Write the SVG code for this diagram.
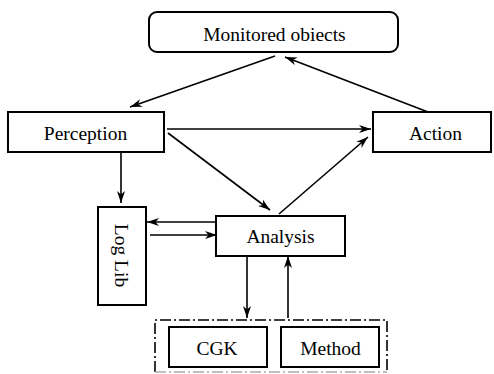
<svg xmlns="http://www.w3.org/2000/svg" width="494" height="374" viewBox="0 0 494 374">
  <style>
    .box { fill: #fff; stroke: #000; stroke-width: 2; }
    .lbl { font-family: "Liberation Serif", "Times New Roman", serif; font-size: 19.5px; fill: #000; text-anchor: middle; }
    .edge { fill: none; stroke: #000; stroke-width: 1.6; marker-end: url(#arrow); }
    .frame { fill: none; stroke: #000; stroke-width: 1.6; stroke-dasharray: 11 3 2 3; }
    .frame-low { fill: none; stroke: #aaa; stroke-width: 1.6; stroke-dasharray: 11 3 2 3; }
  </style>
  <defs>
    <marker id="arrow" markerUnits="userSpaceOnUse" markerWidth="14" markerHeight="9" refX="12" refY="4.5" orient="auto">
      <path d="M0,0.5 L12,4.5 L0,8.5 L3.5,4.5 z" fill="#000"/>
    </marker>
  </defs>

  <rect width="494" height="374" fill="#fff"/>

  <!-- connectors -->
  <g id="connectors">
    <line class="edge" x1="275" y1="56" x2="130" y2="107"/>
    <line class="edge" x1="428" y1="112" x2="285" y2="57"/>
    <line class="edge" x1="167" y1="129" x2="371" y2="129"/>
    <line class="edge" x1="168" y1="133" x2="270" y2="210"/>
    <line class="edge" x1="279" y1="214" x2="368" y2="137"/>
    <line class="edge" x1="121" y1="152" x2="121" y2="203"/>
    <line class="edge" x1="216" y1="222" x2="147" y2="222"/>
    <line class="edge" x1="150" y1="235" x2="217" y2="235"/>
    <line class="edge" x1="247" y1="253" x2="247" y2="318"/>
    <line class="edge" x1="288" y1="318" x2="288" y2="256"/>
  </g>

  <!-- knowledge frame around CGK and Method -->
  <g id="frame">
    <path class="frame" d="M155,372 L155,320 L387,320 L387,372"/>
    <line class="frame-low" x1="155" y1="372" x2="387" y2="372"/>
  </g>

  <g id="monitored">
    <rect class="box" x="149" y="12" width="249" height="40" rx="8" ry="8"/>
    <text class="lbl" x="274.5" y="41">Monitored obiects</text>
  </g>

  <g id="perception">
    <rect class="box" x="8" y="112" width="156" height="40"/>
    <text class="lbl" x="85.5" y="140">Perception</text>
  </g>

  <g id="action">
    <rect class="box" x="373" y="112" width="118" height="40"/>
    <text class="lbl" x="435.5" y="140">Action</text>
  </g>

  <g id="analysis">
    <rect class="box" x="216" y="216" width="129" height="40"/>
    <text class="lbl" x="280.5" y="243">Analysis</text>
  </g>

  <g id="loglib">
    <rect class="box" x="98" y="207" width="48" height="98"/>
    <text class="lbl" x="0" y="0" dominant-baseline="central" transform="translate(121 255.5) rotate(90)">Log Lib</text>
  </g>

  <g id="cgk">
    <rect class="box" x="169" y="327" width="98" height="40"/>
    <text class="lbl" x="217" y="355">CGK</text>
  </g>

  <g id="method">
    <rect class="box" x="281" y="327" width="98" height="40"/>
    <text class="lbl" x="330.5" y="355">Method</text>
  </g>
</svg>
